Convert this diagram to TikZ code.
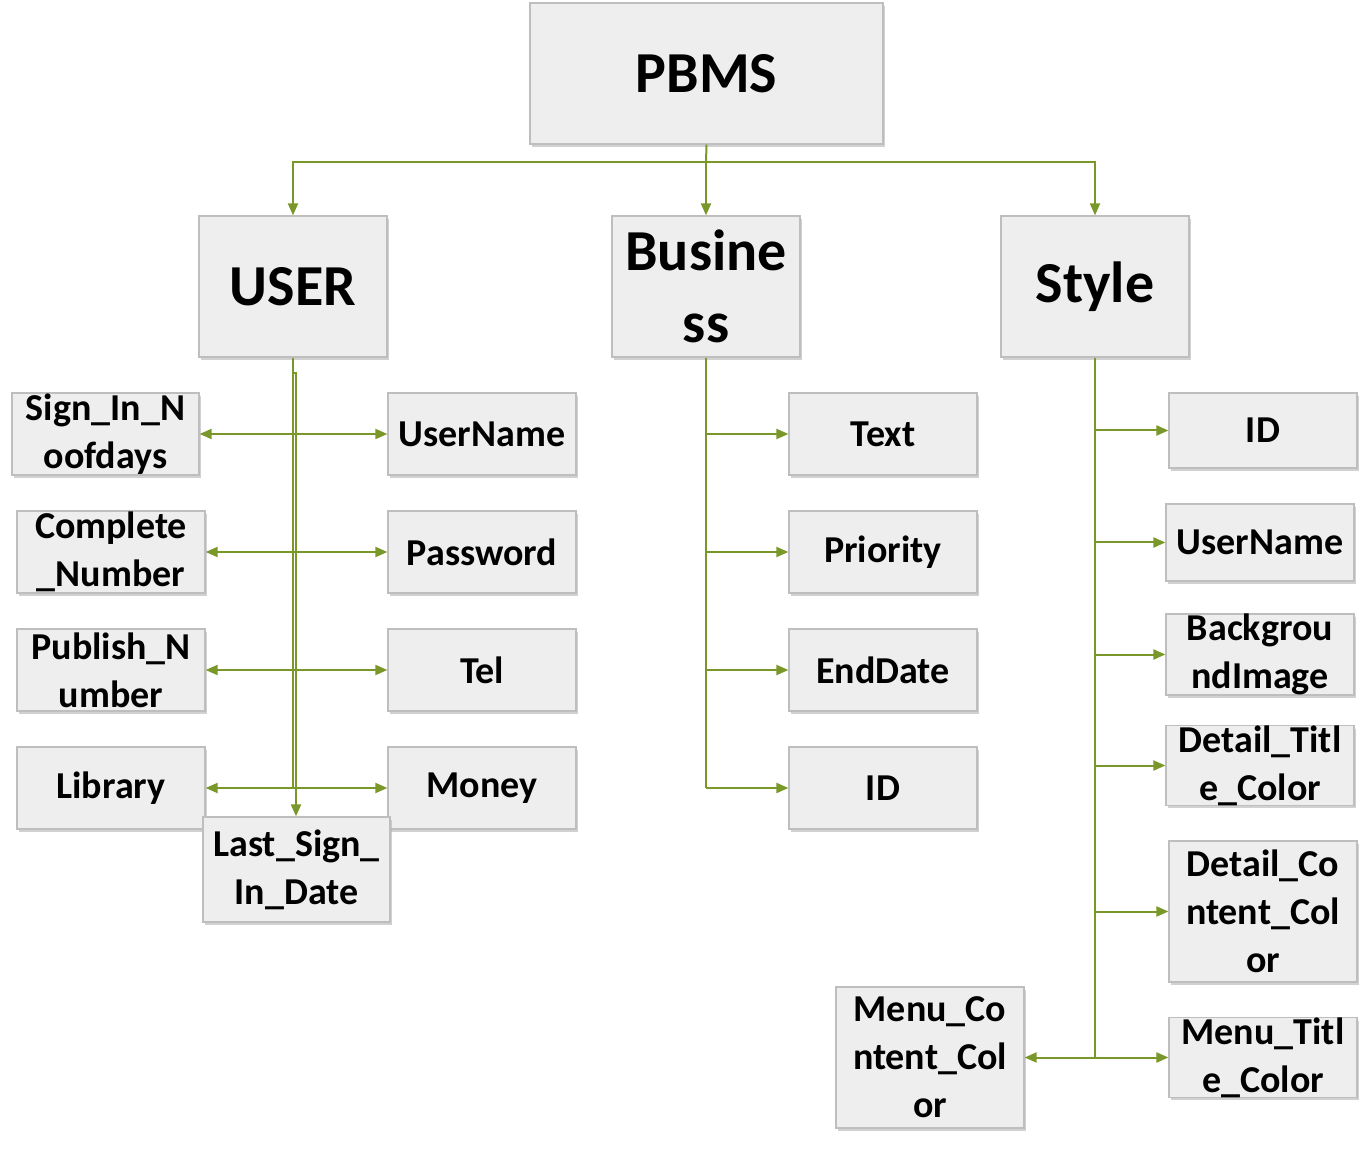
\documentclass[tikz,border=0pt]{standalone}
\usepackage{fontspec}
\setmainfont{Carlito}
\usetikzlibrary{arrows.meta,shadows}
\definecolor{olive}{RGB}{122,152,42}
\definecolor{boxfill}{RGB}{238,238,238}
\definecolor{boxline}{RGB}{190,190,190}
\begin{document}
\begin{tikzpicture}[x=.5pt,y=-.5pt,>={Triangle[length=6pt,width=5pt]},
 box/.style={draw=boxline,fill=boxfill,line width=.6pt,inner sep=0pt,align=center,
  minimum width=94pt,minimum height=41pt,font=\bfseries\fontsize{19}{24}\selectfont,
  drop shadow={shadow xshift=1pt,shadow yshift=-1.5pt,fill=black!30,opacity=.6}},
 big/.style={box,minimum height=70.5pt,font=\bfseries\fontsize{29}{36}\selectfont},
 link/.style={draw=olive,line width=1pt}]
\useasboundingbox (0,0) rectangle (1370,1149);
\node[big,minimum width=176.5pt](pbms) at (706.5,73.5){PBMS};
\node[big](user) at (293,286.5){USER};
\node[big](biz) at (706,286.5){Busine\\ss};
\node[big](style) at (1095,286.5){Style};
%user
\node[box,minimum width=93.5pt](sign) at (105.5,434){Sign\_In\_N\\oofdays};
\node[box](compl) at (111,552){Complete\\\_Number};
\node[box](publ) at (111,670){Publish\_N\\umber};
\node[box](lib) at (111,788){Library};
\node[box](uname) at (482,434){UserName};
\node[box](pass) at (482,552){Password};
\node[box](tel) at (482,670){Tel};
\node[box](money) at (482,788){Money};
%business
\node[box](text) at (883,434){Text};
\node[box](prio) at (883,552){Priority};
\node[box](endd) at (883,670){EndDate};
\node[box](bid) at (883,788){ID};
%style
\node[box,minimum height=37.5pt](sid) at (1263,430.5){ID};
\node[box,minimum height=38.5pt](suname) at (1260,542.5){UserName};
\node[box,minimum height=38.5pt](bgimg) at (1260,654.5){Backgrou\\ndImage};
\node[box,minimum height=38.5pt](dtc) at (1260,765.5){Detail\_Titl\\e\_Color};
\node[box,minimum height=70.5pt](dcc) at (1263,911.5){Detail\_Co\\ntent\_Col\\or};
\node[box,minimum height=38.5pt](mtc) at (1263,1057.5){Menu\_Titl\\e\_Color};
\node[box,minimum height=70.5pt](mcc) at (930,1057.5){Menu\_Co\\ntent\_Col\\or};

\coordinate (hub) at (706,162);
\draw[link] (pbms.south)--(hub);
\draw[link,->] (hub)-|(user.north);
\draw[link,->] (hub)--(biz.north);
\draw[link,->] (hub)-|(style.north);

\coordinate (uend) at (293,787);
\coordinate (ujog) at (293,373);
\draw[link] (user.south)--(uend);
\draw[link,<->] (sign.east)--(uname.west);
\draw[link,<->] (compl.east)--(pass.west);
\draw[link,<->] (publ.east)--(tel.west);
\draw[link,<->] (lib.east)--(money.west);
\draw[link] (ujog)--++(3,0)--++(0,440)coordinate(ulast);
\node[box,minimum width=93.5pt,minimum height=52.5pt](last) at (296.5,869.5){Last\_Sign\_\\In\_Date};
\draw[link,->] (ulast)--(last.north-|ulast);

\coordinate (bend) at (706,788);
\draw[link] (biz.south)--(bend);
\foreach \n in {text,prio,endd,bid}
 \draw[link,->] (biz.south|-\n.west)--(\n.west);

\coordinate (send) at (1095,1057.5);
\draw[link] (style.south)--(send);
\foreach \n in {sid,suname,bgimg,dtc,dcc}
 \draw[link,->] (style.south|-\n.west)--(\n.west);
\draw[link,<->] (mcc.east)--(mtc.west);
\end{tikzpicture}
\end{document}
